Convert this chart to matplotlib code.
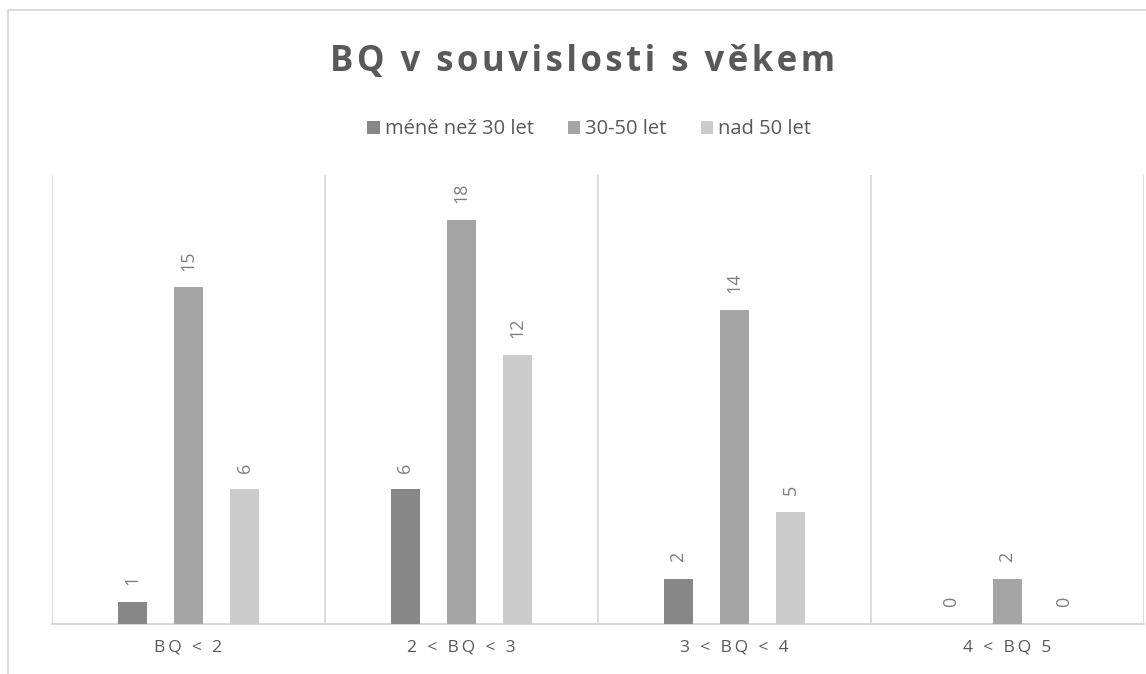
import matplotlib.pyplot as plt
import numpy as np
from matplotlib.patches import Rectangle

plt.rcParams['font.family'] = ['Open Sans', 'DejaVu Sans']

# data
categories = ["BQ < 2", "2 < BQ < 3", "3 < BQ < 4", "4 < BQ 5"]
series_names = ["méně než 30 let", "30-50 let", "nad 50 let"]
under_30 = [1, 6, 2, 0]
between_30_50 = [15, 18, 14, 2]
over_50 = [6, 12, 5, 0]

colors = ["#878787", "#a5a5a5", "#cccccc"]
txt = "#595959"

# spreads the letters a bit, like the spaced text in the original
def spaced(s, sep="\u2009"):
    return sep.join(s)

fig = plt.figure(figsize=(11.46, 6.74), dpi=100)
ax = fig.add_axes([52 / 1146, 50 / 674, 1092 / 1146, 449 / 674])

x = np.arange(len(categories))
width = 0.106
offsets = [-0.206, 0.0, 0.206]
all_series = [under_30, between_30_50, over_50]

for vals, off, col, name in zip(all_series, offsets, colors, series_names):
    bars = ax.bar(x + off, vals, width, color=col, label=name, zorder=3)
    for b, v in zip(bars, vals):
        ax.annotate(str(v), (b.get_x() + b.get_width() / 2, v),
                    xytext=(0, 12), textcoords="offset points",
                    rotation=90, ha="center", va="bottom",
                    fontsize=13, color="#7f7f7f")

ax.set_xlim(-0.5, 3.5)
ax.set_ylim(0, 20)
ax.set_yticks([])
ax.set_xticks(x)
ax.set_xticklabels([spaced(c) for c in categories], fontsize=12.5, color=txt)
ax.tick_params(axis="x", length=0, pad=11)

# vertical separators between categories
for b in np.arange(-0.5, 4.0, 1.0):
    ax.axvline(b, color="#d9d9d9", lw=1.3, zorder=1)

for s in ["top", "right", "left"]:
    ax.spines[s].set_visible(False)
ax.spines["bottom"].set_color("#d9d9d9")
ax.spines["bottom"].set_linewidth(1.5)

fig.text(0.508, 0.908, spaced("BQ v souvislosti s věkem", "\u200a"),
         ha="center", va="center", fontsize=25, fontweight="bold", color=txt)

fig.legend(loc="center", bbox_to_anchor=(0.514, 0.808), ncol=3,
           frameon=False, fontsize=14.5, labelcolor=txt,
           handlelength=0.6, handleheight=0.6, handletextpad=0.25,
           columnspacing=1.7)

# outer chart frame
fig.patches.append(Rectangle((8 / 1146, -0.1), 1.1, 0.1 + 664 / 674,
                             transform=fig.transFigure, fill=False,
                             edgecolor="#d9d9d9", lw=1.3))

fig.savefig("out.png", dpi=100)
